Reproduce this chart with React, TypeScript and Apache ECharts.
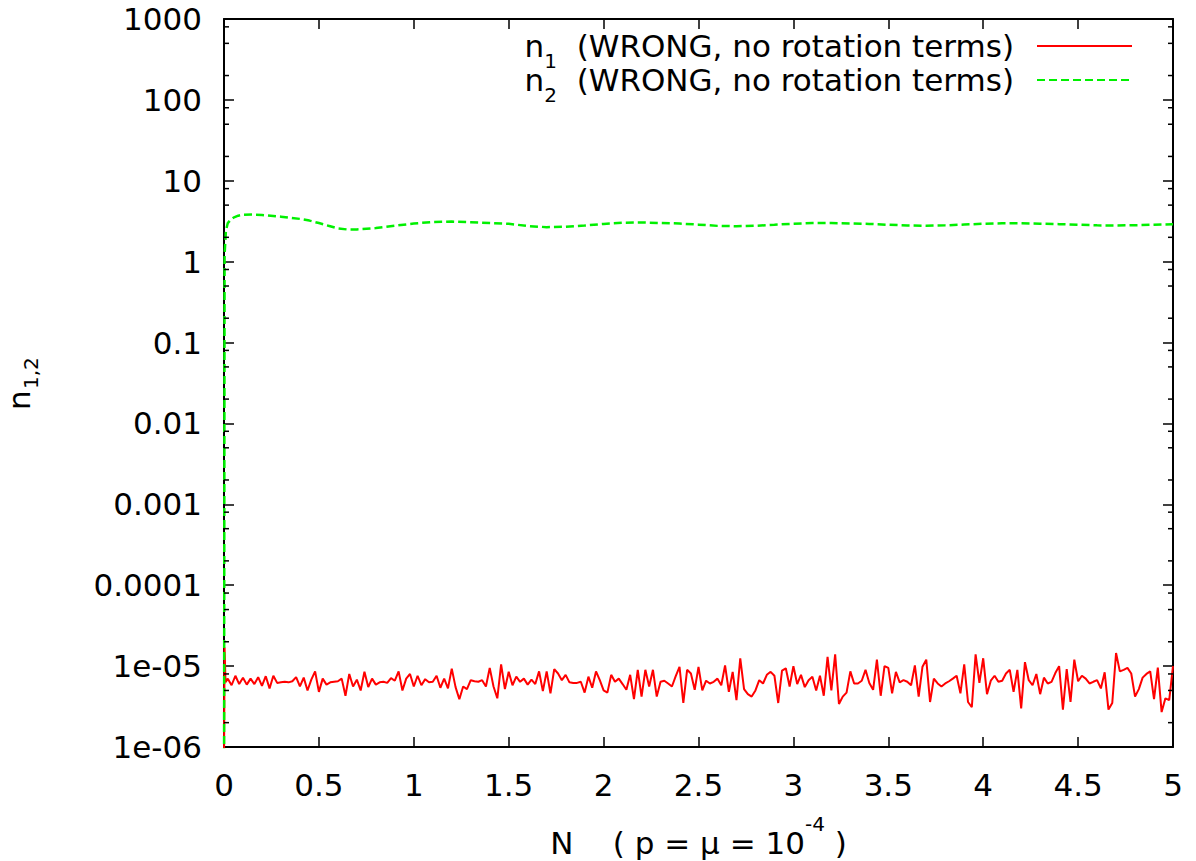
import React, { useEffect, useRef } from "react";
import * as echarts from "echarts";

const FONT = "DejaVu Sans";

const yTickLabels = ["1e-06", "1e-05", "0.0001", "0.001", "0.01", "0.1", "1", "10", "100", "1000"];
const yMinorTicks = [
  2e-6, 5e-6, 8e-6, 2e-5, 5e-5, 8e-5, 2e-4, 5e-4, 8e-4, 2e-3, 5e-3, 8e-3,
  0.02, 0.05, 0.08, 0.2, 0.5, 0.8, 2, 5, 8, 20, 50, 80, 200, 500, 800,
];

const legendLabels = ["n1", "n2"];

// n1 (units of 1e-6): start spike then regular samples every 0.02 in N
const n1StartN = [0, 0.003, 0.008];
const n1StartVals = [0.5, 17, 6.3];
const n1Step = 0.02;
const n1Vals = [
  7.0, 5.8, 7.6, 6.0, 7.2, 5.9, 7.0, 6.0, 7.3, 5.7,
  7.5, 5.3, 7.6, 6.2, 6.3, 6.4, 6.3, 6.5, 7.3, 5.6,
  7.2, 5.0, 6.8, 8.6, 4.8, 7.0, 5.9, 6.3, 6.4, 6.5,
  7.0, 4.3, 8.0, 5.6, 6.8, 5.0, 8.5, 5.5, 7.0, 5.9,
  6.3, 6.4, 6.2, 7.1, 6.6, 8.6, 5.0, 7.0, 8.0, 5.6,
  7.6, 5.8, 6.9, 6.3, 6.4, 7.6, 5.4, 7.0, 5.3, 9.3,
  5.5, 3.9, 5.6, 5.2, 6.7, 6.5, 6.4, 6.7, 5.6, 9.5,
  5.6, 4.0, 10.5, 5.2, 8.5, 5.8, 7.4, 6.4, 7.0, 5.9,
  6.8, 6.0, 8.6, 4.9, 8.6, 4.6, 9.2, 8.1, 6.7, 7.8,
  6.3, 6.2, 6.2, 6.4, 4.7, 7.4, 5.4, 8.6, 6.7, 5.0,
  4.7, 7.8, 6.4, 7.0, 6.0, 5.1, 7.8, 3.9, 9.0, 4.2,
  9.0, 5.6, 9.0, 4.2, 6.4, 6.6, 6.1, 5.6, 7.5, 9.8,
  3.5, 9.0, 8.1, 5.1, 9.8, 5.0, 6.6, 6.1, 6.4, 7.0,
  5.8, 10.2, 4.8, 8.5, 3.8, 12.5, 5.2, 4.5, 4.2, 5.0,
  6.7, 6.1, 7.8, 8.5, 7.6, 3.5, 8.8, 9.4, 5.6, 10.0,
  6.0, 7.8, 5.5, 6.7, 7.4, 5.0, 7.6, 4.3, 13.0, 5.0,
  14.0, 3.4, 4.2, 4.7, 8.6, 6.1, 6.1, 6.6, 9.0, 6.2,
  5.1, 12.0, 4.3, 10.0, 9.5, 4.6, 8.5, 6.3, 6.7, 6.4,
  5.8, 10.2, 4.2, 9.8, 12.0, 3.6, 7.0, 6.1, 5.6, 6.1,
  6.5, 7.0, 7.6, 4.6, 10.5, 3.6, 3.1, 14.0, 6.2, 12.5,
  4.5, 6.6, 7.6, 6.4, 6.6, 8.1, 9.0, 4.8, 9.0, 3.0,
  11.2, 6.7, 5.8, 8.0, 4.5, 7.2, 6.1, 6.4, 8.2, 10.0,
  2.9, 9.2, 3.6, 12.0, 6.5, 7.6, 7.0, 6.1, 6.4, 6.7,
  5.3, 8.4, 2.9, 3.5, 14.5, 8.6, 9.0, 9.5, 8.1, 4.2,
  5.2, 7.2, 8.0, 8.6, 3.9, 9.6, 2.7, 4.0, 3.8, 10.0,
];

const n2N = [
  0, 0.003, 0.01, 0.02, 0.035, 0.05, 0.075, 0.1, 0.15, 0.2,
  0.3, 0.4, 0.45, 0.5, 0.55, 0.6, 0.65, 0.7,
  0.8, 0.9, 1.0, 1.1, 1.2, 1.3, 1.4, 1.5, 1.6, 1.7, 1.8, 1.9,
  2.0, 2.1, 2.2, 2.3, 2.4, 2.5, 2.6, 2.7, 2.8, 2.9,
  3.0, 3.1, 3.2, 3.3, 3.4, 3.5, 3.6, 3.7, 3.8, 3.9,
  4.0, 4.1, 4.2, 4.3, 4.4, 4.5, 4.6, 4.7, 4.8, 4.9, 5.0,
];
const n2Vals = [
  1e-7, 1.2, 2.4, 3.0, 3.3, 3.5, 3.7, 3.8, 3.83, 3.78,
  3.6, 3.38, 3.22, 3.0, 2.78, 2.58, 2.5, 2.5,
  2.6, 2.78, 2.96, 3.1, 3.13, 3.07, 3.01, 2.94, 2.76, 2.67, 2.7, 2.8,
  2.93, 3.03, 3.05, 3.01, 2.96, 2.87, 2.77, 2.74, 2.78, 2.86,
  2.95, 3.0, 3.0, 2.97, 2.93, 2.86, 2.8, 2.78, 2.81, 2.88,
  2.94, 2.98, 2.98, 2.95, 2.91, 2.86, 2.81, 2.8, 2.82, 2.86, 2.9,
];

export default function App() {
  const ref = useRef<HTMLDivElement>(null);
  useEffect(() => {
    if (!ref.current) return;
    const chart = echarts.init(ref.current, null, { renderer: "svg" });

    const n1Data = [
      ...n1StartN.map((n, i) => [n, n1StartVals[i] * 1e-6]),
      ...n1Vals.map((v, i) => [+(((i + 1) * n1Step).toFixed(3)), v * 1e-6]),
    ];
    const n2Data = n2N.map((n, i) => [n, n2Vals[i]]);

    const axisLine = { show: true, onZero: false, lineStyle: { color: "#000", width: 2 } };
    const tick = { show: true, inside: true, length: 10, lineStyle: { color: "#000", width: 1.5 } };
    const labelStyle = { color: "#000", fontSize: 31, fontFamily: FONT };

    chart.setOption({
      animation: false,
      backgroundColor: "#fff",
      grid: { left: 224, right: 23, top: 19, bottom: 114, show: false, outerBoundsMode: "none", containLabel: false },
      graphic: [
        {
          type: "text",
          x: 19,
          y: 410,
          rotation: Math.PI / 2,
          style: {
            text: "n",
            fontFamily: FONT,
            fontSize: 31,
            fill: "#000",
            align: "left",
            verticalAlign: "middle",
          },
        },
        {
          type: "text",
          x: 31,
          y: 389,
          rotation: Math.PI / 2,
          style: {
            text: "1,2",
            fontFamily: FONT,
            fontSize: 20,
            fill: "#000",
            align: "left",
            verticalAlign: "middle",
          },
        },
      ],
      legend: {
        orient: "vertical",
        right: 63,
        top: 21,
        align: "right",
        padding: 0,
        itemWidth: 95,
        itemHeight: 14,
        itemGap: -16,
        selectedMode: false,
        data: ["n1", "n2"],
        itemStyle: { color: "rgba(0,0,0,0)", borderColor: "rgba(0,0,0,0)", borderWidth: 0, opacity: 0 },
        formatter: (name: string) => {
          const idx = legendLabels.indexOf(name) + 1;
          return `{n|n}{s|${idx}}{t|  (WRONG, no rotation terms)}`;
        },
        textStyle: {
          color: "#000",
          fontFamily: FONT,
          fontSize: 31,
          rich: {
            n: { fontFamily: FONT, fontSize: 31, lineHeight: 31, color: "#000" },
            s: { fontFamily: FONT, fontSize: 20, lineHeight: 20, color: "#000", padding: [30, 0, 0, 0] },
            t: { fontFamily: FONT, fontSize: 31, lineHeight: 31, color: "#000", padding: [0, 18, 0, 0] },
          },
        },
      },
      xAxis: [
        {
          type: "value",
          min: 0,
          max: 5,
          interval: 0.5,
          position: "bottom",
          axisLine,
          axisTick: tick,
          splitLine: { show: false },
          axisLabel: { ...labelStyle, margin: 22 },
          name: "{a|N    ( p = μ = 10}{b|-4}{a| )}",
          nameLocation: "middle",
          nameGap: 80,
          nameTextStyle: {
            rich: {
              a: { fontFamily: FONT, fontSize: 31, lineHeight: 31, color: "#000" },
              b: { fontFamily: FONT, fontSize: 20, lineHeight: 20, color: "#000", padding: [0, 0, 38, 0] },
            },
          },
        },
        {
          type: "value",
          min: 0,
          max: 5,
          interval: 0.5,
          position: "top",
          axisLine,
          axisTick: tick,
          splitLine: { show: false },
          axisLabel: { show: false },
        },
      ],
      yAxis: [
        {
          type: "log",
          logBase: 10,
          min: 1e-6,
          max: 1000,
          position: "left",
          axisLine,
          axisTick: tick,
          splitLine: { show: false },
          axisLabel: {
            ...labelStyle,
            margin: 22,
            formatter: (v: number) => yTickLabels[Math.round(Math.log10(v)) + 6] ?? "",
          },
        },
        {
          type: "log",
          logBase: 10,
          min: 1e-6,
          max: 1000,
          position: "right",
          axisLine,
          axisTick: tick,
          splitLine: { show: false },
          axisLabel: { show: false },
        },
      ],
      series: [
        {
          name: "n1",
          type: "line",
          data: n1Data,
          showSymbol: false,
          symbol: "none",
          clip: true,
          lineStyle: { color: "#ff0000", width: 2 },
          itemStyle: { color: "#ff0000" },
          z: 3,
        },
        {
          name: "n2",
          type: "line",
          data: n2Data,
          showSymbol: false,
          symbol: "none",
          clip: true,
          lineStyle: { color: "#00f000", width: 2.5, type: [8, 4] },
          itemStyle: { color: "#00f000" },
          z: 4,
        },
        {
          name: "minorTicks",
          type: "custom",
          silent: true,
          clip: false,
          z: 5,
          data: yMinorTicks.map((v) => [0, v]),
          renderItem: (params: any, api: any) => {
            const v = api.value(1);
            const l = api.coord([0, v]);
            const r = api.coord([5, v]);
            return {
              type: "group",
              children: [
                { type: "line", shape: { x1: l[0], y1: l[1], x2: l[0] + 5, y2: l[1] }, style: { stroke: "#000", lineWidth: 1.5 } },
                { type: "line", shape: { x1: r[0] - 5, y1: r[1], x2: r[0], y2: r[1] }, style: { stroke: "#000", lineWidth: 1.5 } },
              ],
            };
          },
        },
      ],
    });
    return () => chart.dispose();
  }, []);

  return (
    <div
      ref={ref}
      style={{ position: "absolute", left: 0, top: 0, width: 1196, height: 861, background: "#fff" }}
    />
  );
}
